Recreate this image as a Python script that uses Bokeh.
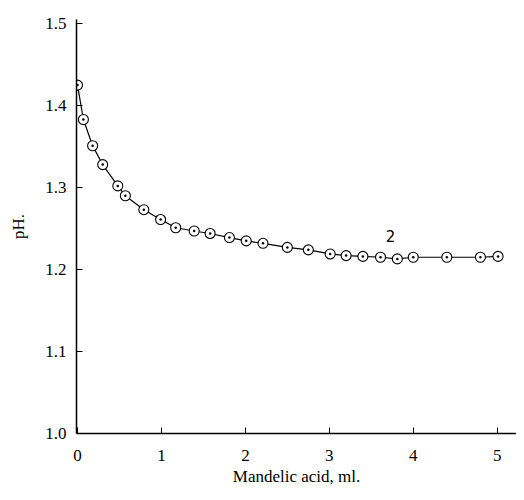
from bokeh.plotting import figure
from bokeh.models import Range1d, FixedTicker, Label
from bokeh.embed import file_html
from bokeh.resources import INLINE

# Data
mandelic_ml = [0.0, 0.07, 0.18, 0.30, 0.48, 0.57, 0.79, 0.99, 1.17, 1.39, 1.58,
               1.81, 2.01, 2.21, 2.50, 2.75, 3.01, 3.20, 3.40, 3.61, 3.81, 4.00,
               4.40, 4.80, 5.01]
ph_values = [1.425, 1.383, 1.351, 1.328, 1.302, 1.290, 1.273, 1.261, 1.251, 1.247, 1.244,
             1.239, 1.235, 1.232, 1.227, 1.224, 1.219, 1.217, 1.216, 1.215, 1.213, 1.215,
             1.215, 1.215, 1.216]
x_ticks = [0, 1, 2, 3, 4, 5]
y_ticks = [1.0, 1.1, 1.2, 1.3, 1.4, 1.5]
curve_label = "2"
curve_label_pos = (3.73, 1.234)

SERIF = "Liberation Serif"

p = figure(width=516, height=492, output_backend="svg", toolbar_location=None,
           x_range=Range1d(-0.012, 5.23), y_range=Range1d(1.0, 1.505),
           min_border_left=76, min_border_top=19, min_border_bottom=59,
           min_border_right=0)

p.outline_line_color = None
p.xgrid.visible = False
p.ygrid.visible = False
p.background_fill_color = "white"
p.border_fill_color = "white"

p.line(mandelic_ml, ph_values, line_color="black", line_width=1.2)
p.scatter(mandelic_ml, ph_values, marker="circle_dot", size=10,
          fill_color="white", line_color="black", line_width=1.1)

p.add_layout(Label(x=curve_label_pos[0], y=curve_label_pos[1], text=curve_label,
                   text_font="DejaVu Sans", text_font_size="15px",
                   text_align="center", text_baseline="bottom", text_color="black"))

for ax in (p.xaxis[0], p.yaxis[0]):
    ax.axis_line_color = "black"
    ax.axis_line_width = 1.5
    ax.major_tick_in = 6
    ax.major_tick_out = 0
    ax.minor_tick_line_color = None
    ax.major_tick_line_color = "black"
    ax.major_label_text_font = SERIF
    ax.major_label_text_font_size = "17px"
    ax.major_label_text_color = "black"
    ax.axis_label_text_font = SERIF
    ax.axis_label_text_font_size = "17px"
    ax.axis_label_text_font_style = "normal"
    ax.axis_label_text_color = "black"

p.xaxis.ticker = FixedTicker(ticks=x_ticks)
p.yaxis.ticker = FixedTicker(ticks=y_ticks)
p.yaxis.major_label_overrides = {t: f"{t:.1f}" for t in y_ticks}
p.xaxis.major_label_standoff = 16
p.yaxis.major_label_standoff = 10
p.xaxis.axis_label = "Mandelic acid, ml."
p.xaxis.axis_label_standoff = 3
p.yaxis.axis_label = "pH."
p.yaxis.axis_label_standoff = 14

open("out.html", "w").write(file_html(p, INLINE))
